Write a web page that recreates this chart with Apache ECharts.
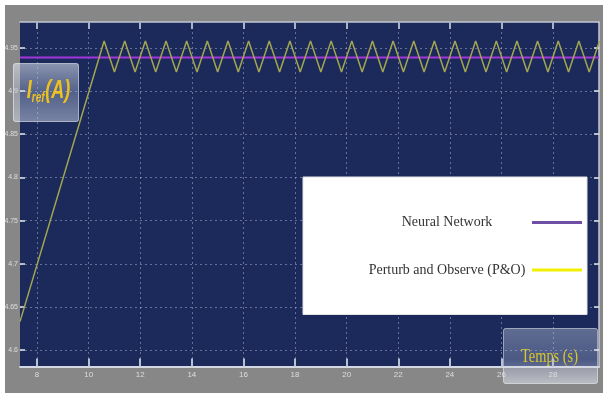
<!DOCTYPE html>
<html>
<head>
<meta charset="utf-8">
<script src="https://cdn.jsdelivr.net/npm/echarts@6/dist/echarts.min.js"></script>
<style>
  html, body { margin: 0; padding: 0; background: #ffffff; }
  #frame { position: absolute; left: 5px; top: 5px; width: 598px; height: 388px; background: #878787; }
  #chart { position: absolute; left: 0; top: 0; width: 603px; height: 393px; }
</style>
</head>
<body>
<div id="frame"></div>
<div id="chart"></div>
<script>
// Reference current I_ref (A) versus time (s)
const xTicks = [8, 10, 12, 14, 16, 18, 20, 22, 24, 26, 28];
const yTicks = [4.6, 4.65, 4.7, 4.75, 4.8, 4.85, 4.9, 4.95];

// Neural network controller: flat reference current
const nnTime  = [7.34, 29.78];
const nnValue = [4.939, 4.939];

// Perturb and Observe: ramp then oscillation around the operating point
const poTime = [7.34, 10.6, 11.0, 11.4, 11.8, 12.2, 12.6, 13.0, 13.4, 13.8, 14.2, 14.6, 15.0,
  15.4, 15.8, 16.2, 16.6, 17.0, 17.4, 17.8, 18.2, 18.6, 19.0, 19.4, 19.8, 20.2, 20.6,
  21.0, 21.4, 21.8, 22.2, 22.6, 23.0, 23.4, 23.8, 24.2, 24.6, 25.0, 25.4, 25.8, 26.2,
  26.6, 27.0, 27.4, 27.8, 28.2, 28.6, 29.0, 29.4, 29.8];
const poValue = [4.633, 4.958, 4.922, 4.958, 4.922, 4.958, 4.922, 4.958, 4.922, 4.958, 4.922, 4.958, 4.922,
  4.958, 4.922, 4.958, 4.922, 4.958, 4.922, 4.958, 4.922, 4.958, 4.922, 4.958, 4.922, 4.958, 4.922,
  4.958, 4.922, 4.958, 4.922, 4.958, 4.922, 4.958, 4.922, 4.958, 4.922, 4.958, 4.922, 4.958, 4.922,
  4.958, 4.922, 4.958, 4.922, 4.958, 4.922, 4.958, 4.922, 4.958];

const seriesNames = ['Neural Network', 'Perturb and Observe (P&O)'];

const xMin = 7.34, xMax = 29.78, yMin = 4.581, yMax = 4.98;

const pair = (xs, ys) => xs.map((x, i) => [x, ys[i]]);

const gridLine = { show: true, lineStyle: { color: 'rgba(200,210,235,0.42)', width: 1, type: [2, 3] } };
const tickFont = 'Liberation Sans, sans-serif';
const boxFont = 'Liberation Sans, sans-serif';

const chart = echarts.init(document.getElementById('chart'), null, { renderer: 'canvas' });

chart.setOption({
  backgroundColor: 'transparent',
  animation: false,
  grid: {
    left: 20, top: 22, right: 4, bottom: 26.5,
    outerBoundsMode: 'none',
    containLabel: false,
    show: true, backgroundColor: '#1b2a5a', borderWidth: 0
  },
  xAxis: [{
    type: 'value', min: xMin, max: xMax, position: 'bottom',
    axisLine: { show: true, onZero: false, lineStyle: { color: '#d4d8e2', width: 2 } },
    axisTick: { show: true, inside: true, length: 8, customValues: xTicks, lineStyle: { color: '#b8c0d4', width: 2 } },
    axisLabel: { customValues: xTicks, margin: 4, color: '#dedede', fontSize: 8, fontFamily: tickFont },
    splitLine: gridLine
  }, {
    type: 'value', min: xMin, max: xMax, position: 'top',
    axisLine: { show: true, onZero: false, lineStyle: { color: '#c4c8d2', width: 1.5 } },
    axisTick: { show: true, inside: true, length: 7, customValues: xTicks, lineStyle: { color: '#aab2c6', width: 2 } },
    axisLabel: { show: false },
    splitLine: { show: false }
  }],
  yAxis: [{
    type: 'value', min: yMin, max: yMax, position: 'left',
    axisLine: { show: false },
    axisTick: { show: true, inside: true, length: 5, customValues: yTicks, lineStyle: { color: '#e8e8e8', width: 1.5 } },
    axisLabel: { customValues: yTicks, margin: 2, formatter: v => String(+v.toFixed(2)),
                 color: '#dedede', fontSize: 7, fontFamily: tickFont },
    splitLine: gridLine
  }, {
    type: 'value', min: yMin, max: yMax, position: 'right',
    axisLine: { show: true, onZero: false, lineStyle: { color: '#c4c8d2', width: 1.5 } },
    axisTick: { show: true, inside: true, length: 5, customValues: yTicks, lineStyle: { color: '#e8e8e8', width: 1.5 } },
    axisLabel: { show: false },
    splitLine: { show: false }
  }],
  legend: {
    show: true,
    left: 303, top: 177,
    orient: 'vertical',
    align: 'right',
    backgroundColor: '#ffffff',
    borderColor: '#e4e4e4', borderWidth: 1,
    padding: [38.5, 5, 37.5, 64],
    itemGap: 33.5,
    itemWidth: 50, itemHeight: 3,
    icon: 'rect',
    selectedMode: false,
    formatter: name => '{t|' + name + '}',
    textStyle: {
      rich: {
        t: { width: 160, align: 'center', lineHeight: 15, fontSize: 14, color: '#333333',
             fontFamily: 'Liberation Serif, Times New Roman, serif' }
      }
    },
    data: [
      { name: seriesNames[0], itemStyle: { color: '#6f4fa6' } },
      { name: seriesNames[1], itemStyle: { color: '#f2f000' } }
    ]
  },
  series: [{
    name: seriesNames[0], type: 'line', showSymbol: false, symbol: 'none',
    data: pair(nnTime, nnValue),
    lineStyle: { color: '#a435dc', width: 2 }, itemStyle: { color: '#a435dc' }, z: 3
  }, {
    name: seriesNames[1], type: 'line', showSymbol: false, symbol: 'none',
    data: pair(poTime, poValue),
    lineStyle: { color: '#a3a551', width: 1.5 }, itemStyle: { color: '#a3a551' }, z: 4
  }],
  graphic: [{
    type: 'group', left: 13, top: 63, z: 100,
    children: [{
      type: 'rect', shape: { x: 0, y: 0, width: 65, height: 58, r: 2 },
      style: {
        fill: new echarts.graphic.LinearGradient(0, 0, 0, 1, [
          { offset: 0, color: 'rgba(235,240,250,0.55)' },
          { offset: 0.5, color: 'rgba(190,200,225,0.35)' },
          { offset: 1, color: 'rgba(215,222,240,0.5)' }
        ]),
        stroke: 'rgba(255,255,255,0.55)', lineWidth: 1
      }
    }, {
      type: 'text', x: 35, y: 28, scaleX: 0.72,
      style: {
        text: '{i|I}{s|ref}{i|(A)}',
        align: 'center', verticalAlign: 'middle',
        fill: '#edc21f',
        rich: {
          i: { fontSize: 25, fontWeight: 'bold', fontStyle: 'italic', fill: '#edc21f', fontFamily: boxFont },
          s: { fontSize: 14, fontWeight: 'bold', fontStyle: 'italic', fill: '#edc21f', fontFamily: boxFont,
               padding: [14, 1, 0, 0] }
        }
      }
    }]
  }, {
    type: 'group', left: 503, top: 328, z: 100,
    children: [{
      type: 'rect', shape: { x: 0, y: 0, width: 94, height: 55, r: 2 },
      style: {
        fill: new echarts.graphic.LinearGradient(0, 0, 0, 1, [
          { offset: 0, color: 'rgba(180,190,215,0.45)' },
          { offset: 0.55, color: 'rgba(150,160,195,0.4)' },
          { offset: 1, color: 'rgba(225,228,238,0.6)' }
        ]),
        stroke: 'rgba(255,255,255,0.5)', lineWidth: 1
      }
    }, {
      type: 'text', x: 46, y: 29, scaleX: 0.8,
      style: {
        text: 'Temps (s)', align: 'center', verticalAlign: 'middle',
        fontSize: 18, fill: '#d6c62e',
        fontFamily: 'Liberation Serif, Times New Roman, serif'
      }
    }]
  }]
});
</script>
</body>
</html>
